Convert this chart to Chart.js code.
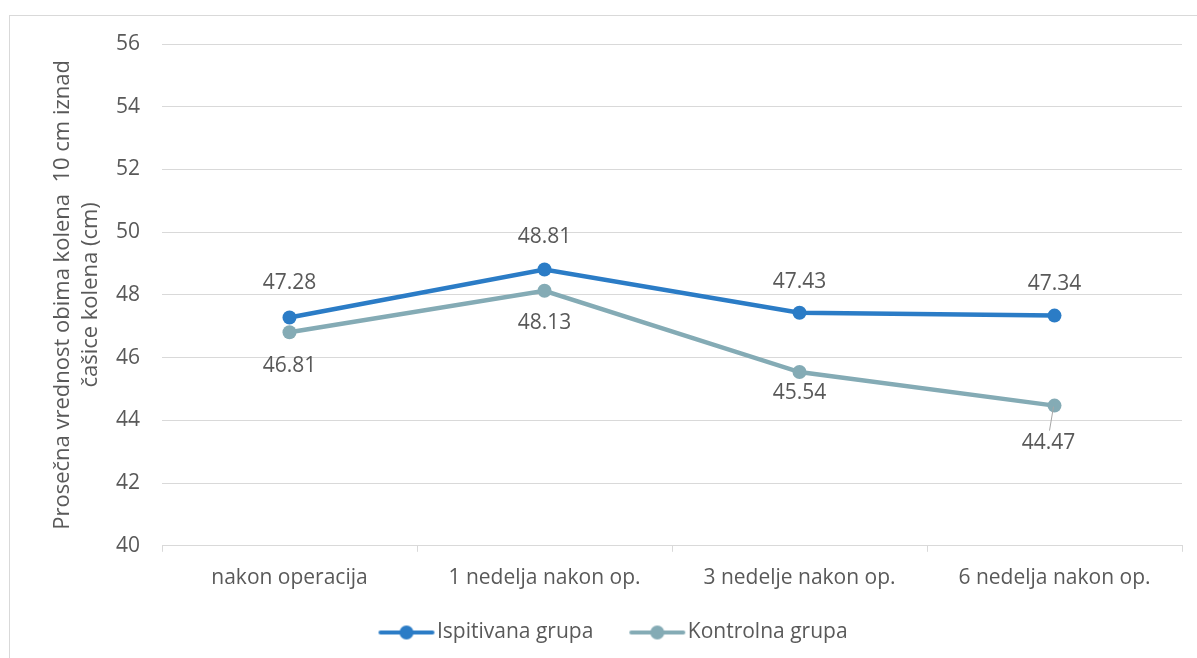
<!DOCTYPE html>
<html>
<head>
<meta charset="utf-8">
<script src="https://cdn.jsdelivr.net/npm/chart.js@4/dist/chart.umd.min.js"></script>
<style>
    html, body { margin: 0; padding: 0; background: #fff; }
    #wrap { position: relative; width: 1197px; height: 658px; overflow: hidden; }
    #frame { position: absolute; left: 9px; top: 15px; width: 1200px; height: 660px; border: 1px solid #d9d9d9; box-sizing: border-box; }
    #obim { position: absolute; left: 0; top: 0; }
</style>
</head>
<body>
<div id="wrap">
    <div id="frame"></div>
    <canvas id="obim" width="1197" height="658"></canvas>
</div>
<script>
    'use strict';

    let periodi = ['nakon operacija', '1 nedelja nakon op.', '3 nedelje nakon op.', '6 nedelja nakon op.']
    let ispitivana = [47.28, 48.81, 47.43, 47.34]
    let kontrolna = [46.81, 48.13, 45.54, 44.47]
    let grupe = ['Ispitivana grupa', 'Kontrolna grupa']

    let plava = '#2b7cc6'
    let siva = '#84abb5'
    let tekst = '#595959'
    let font = "'Open Sans', sans-serif"

    // pomeraj natpisa od tacke [dx, dy]
    let natpisPlava = [[0, -34], [0, -32], [0, -31], [0, -32]]
    let natpisSiva = [[0, 34], [0, 32], [0, 21], [-6, 37]]

    // sličica za legendu: linija sa tackom, pomerena udesno da bi bilo
    // vise mesta izmedju stavki
    function ikona(boja) {
        let c = document.createElement('canvas')
        c.width = 140
        c.height = 16
        let g = c.getContext('2d')
        let x0 = 59
        g.strokeStyle = boja
        g.lineWidth = 4
        g.lineCap = 'round'
        g.beginPath()
        g.moveTo(x0 + 2, 8)
        g.lineTo(x0 + 54, 8)
        g.stroke()
        g.fillStyle = boja
        g.beginPath()
        g.arc(x0 + 28, 8, 7, 0, Math.PI * 2)
        g.fill()
        return c
    }

    let natpisi = {
        id: 'natpisi',
        afterDatasetsDraw: function (chart) {
            let ctx = chart.ctx
            ctx.save()
            ctx.font = '21px ' + font
            ctx.fillStyle = tekst
            ctx.textAlign = 'center'
            ctx.textBaseline = 'middle'
            let pomeraji = [natpisPlava, natpisSiva]
            chart.data.datasets.forEach(function (ds, di) {
                let meta = chart.getDatasetMeta(di)
                meta.data.forEach(function (p, i) {
                    let d = pomeraji[di][i]
                    let lx = p.x + d[0]
                    let ly = p.y + d[1]
                    if (Math.abs(d[0]) > 2) {
                        // linija do udaljenog natpisa
                        ctx.strokeStyle = '#a6a6a6'
                        ctx.lineWidth = 1
                        ctx.beginPath()
                        ctx.moveTo(p.x - 1, p.y + 1)
                        ctx.lineTo(lx + 1, ly - 12)
                        ctx.stroke()
                    }
                    ctx.fillText(ds.data[i].toFixed(2), lx, ly)
                })
            })
            ctx.restore()
        }
    }

    let data_1 = {
        labels: periodi,
        datasets: [
            {
                label: grupe[0],
                data: ispitivana,
                borderColor: plava,
                backgroundColor: plava,
                borderWidth: 4.5,
                pointRadius: 7,
                pointBorderWidth: 0,
                pointBackgroundColor: plava
            },
            {
                label: grupe[1],
                data: kontrolna,
                borderColor: siva,
                backgroundColor: siva,
                borderWidth: 4.5,
                pointRadius: 7,
                pointBorderWidth: 0,
                pointBackgroundColor: siva
            }
        ]
    }

    let options = {
        responsive: false,
        animation: false,
        layout: {
            padding: { top: 44, right: 15, left: 18, bottom: 5 }
        },
        plugins: {
            tooltip: { enabled: false },
            legend: {
                display: true,
                position: 'bottom',
                labels: {
                    usePointStyle: true,
                    pointStyleWidth: 74,
                    padding: 10,
                    color: tekst,
                    font: { family: font, size: 21 },
                    generateLabels: function (chart) {
                        return chart.data.datasets.map(function (ds, i) {
                            return {
                                text: ds.label,
                                pointStyle: ikona(ds.borderColor),
                                fontColor: tekst,
                                datasetIndex: i,
                                lineWidth: 0
                            }
                        })
                    }
                }
            }
        },
        scales: {
            x: {
                offset: true,
                grid: {
                    offset: true,
                    drawOnChartArea: false,
                    drawTicks: true,
                    tickLength: 6,
                    color: '#d9d9d9'
                },
                border: { display: true, color: '#d9d9d9' },
                ticks: {
                    color: tekst,
                    padding: 14,
                    maxRotation: 0,
                    font: { family: font, size: 21 }
                },
                afterFit: function (scale) { scale.height += 7 }
            },
            y: {
                min: 40,
                max: 56,
                ticks: {
                    stepSize: 2,
                    color: tekst,
                    padding: 22,
                    font: { family: font, size: 21 }
                },
                grid: {
                    color: '#d9d9d9',
                    drawTicks: false
                },
                border: { display: false },
                title: {
                    display: true,
                    text: ['Prosečna vrednost obima kolena  10 cm iznad', 'čašice kolena (cm)'],
                    color: tekst,
                    font: { family: font, size: 22, lineHeight: 1.3 },
                    padding: { top: 30, bottom: 0 }
                },
                afterFit: function (scale) { scale.width = 144 }
            }
        }
    }

    let obimCanvas = document.getElementById('obim').getContext('2d')
    let obimChart = new Chart(obimCanvas, {
        type: 'line',
        data: data_1,
        options: options,
        plugins: [natpisi]
    })
</script>
</body>
</html>
